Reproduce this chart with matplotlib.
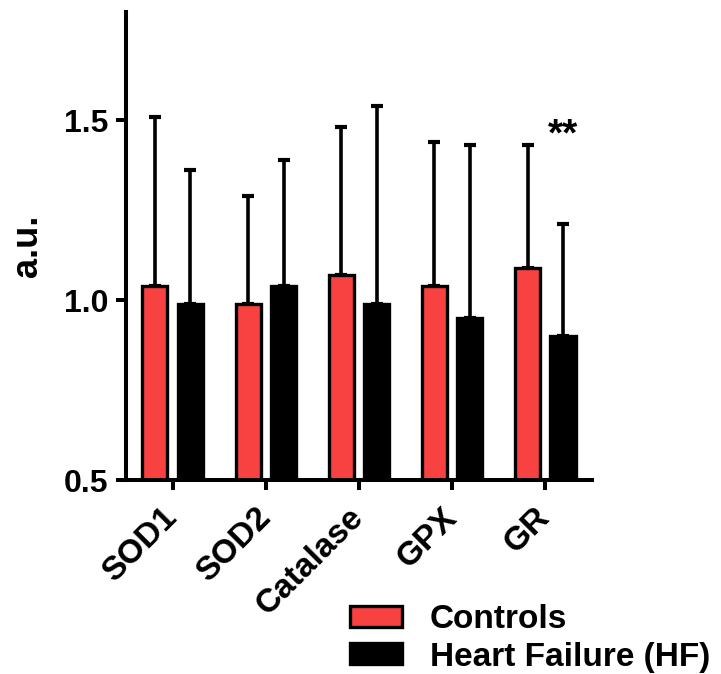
import matplotlib
matplotlib.use("Agg")
import matplotlib.pyplot as plt
import numpy as np

plt.rcParams['font.family'] = ['Liberation Sans', 'DejaVu Sans']
plt.rcParams['font.weight'] = 'bold'

categories = ["SOD1", "SOD2", "Catalase", "GPX", "GR"]
controls = [1.04, 0.99, 1.07, 1.04, 1.09]
controls_err_top = [1.51, 1.29, 1.48, 1.44, 1.43]
hf = [0.99, 1.04, 0.99, 0.95, 0.90]
hf_err_top = [1.36, 1.39, 1.54, 1.43, 1.21]
series_names = ["Controls", "Heart Failure (HF)"]
red = "#F84242"

fig = plt.figure(figsize=(7.21, 6.74), dpi=100)
ax = fig.add_axes([0.1748, 0.2878, 0.821 - 0.1748, 0.982 - 0.2878])

x = np.arange(len(categories))
w = 0.27
off = 0.19
base = 0.5
c = np.array(controls); h = np.array(hf)
ax.bar(x - off, c - base, w, bottom=base, color=red, edgecolor='black', linewidth=2.4, label=series_names[0], zorder=2)
ax.bar(x + off, h - base, w, bottom=base, color='black', edgecolor='black', linewidth=2.4, label=series_names[1], zorder=2)
ax.errorbar(x - off, c, yerr=[np.zeros_like(c), np.array(controls_err_top) - c], fmt='none',
            ecolor='black', elinewidth=2.6, capsize=4.5, capthick=3.0, zorder=1)
ax.errorbar(x + off, h, yerr=[np.zeros_like(h), np.array(hf_err_top) - h], fmt='none',
            ecolor='black', elinewidth=2.6, capsize=4.5, capthick=3.0, zorder=1)

ax.text(4 + off, 1.43, "**", ha='center', va='baseline', fontsize=28, fontweight='bold')

ax.set_xlim(-0.5, 4.5)
ax.set_ylim(0.5, 1.8)
ax.set_yticks([0.5, 1.0, 1.5])
ax.set_yticklabels(["0.5", "1.0", "1.5"])
ax.set_xticks(x)
ax.set_xticklabels(categories, rotation=45, ha='right', va='center', rotation_mode='anchor')
for s in ['top', 'right']:
    ax.spines[s].set_visible(False)
for s in ['left', 'bottom']:
    ax.spines[s].set_linewidth(2.9)
ax.tick_params(axis='both', width=2.9, length=7.5, labelsize=23)
ax.tick_params(axis='x', labelsize=24, pad=16)
ax.tick_params(axis='y', pad=5)
ax.set_ylabel("a.u.", fontsize=26, fontweight='bold', labelpad=14)

fig.legend(loc='upper left', bbox_to_anchor=(0.4854, 0.1036), frameon=False, fontsize=24,
           handlelength=1.56, handleheight=0.6, labelspacing=0.19, handletextpad=0.84,
           borderpad=0, borderaxespad=0)

fig.savefig("out.png", dpi=100)
